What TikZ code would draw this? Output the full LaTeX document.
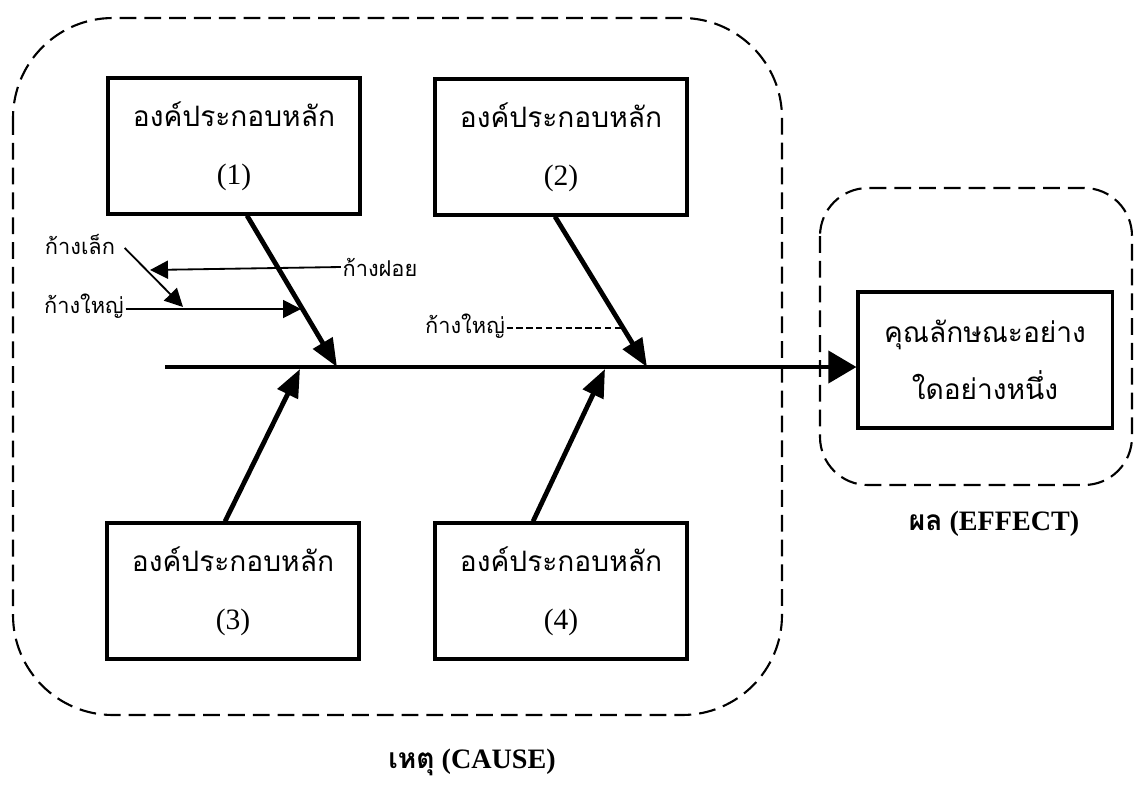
\documentclass[tikz,border=0pt]{standalone}
\usepackage{fontspec}
\setmainfont{Liberation Serif}
\newfontfamily\thai[Script=Thai]{Loma}
\usetikzlibrary{arrows.meta}

\begin{document}
\begin{tikzpicture}[x=0.025cm,y=-0.025cm,
  part/.style={draw,line width=2.2pt,minimum width=6.3cm,minimum height=3.4cm,
    align=center,font=\fontsize{21}{24}\selectfont},
  cluster/.style={draw,line width=1.5pt,dash pattern=on 0.42cm off 0.2cm},
  bone/.style={line width=3.4pt,-{Triangle[length=0.7cm,width=0.55cm]}},
  twig/.style={line width=1.3pt,-{Triangle[length=0.45cm,width=0.45cm]}},
  tag/.style={font=\thai\fontsize{15.5}{18}\selectfont,inner sep=1pt},
  caption/.style={font=\bfseries\fontsize{20}{24}\selectfont}]
\useasboundingbox (0,0) rectangle (1142,790);
% cause and effect frames
\draw[cluster,rounded corners=2.5cm] (13,18) rectangle (782,715);
\draw[cluster,rounded corners=1.2cm] (820,188) rectangle (1132,485);
% main parts
\node[part] (p1) at (234,146) {{\thai\fontsize{20}{24}\selectfont องค์ประกอบหลัก}\\[17pt](1)};
\node[part] (p2) at (561,147) {{\thai\fontsize{20}{24}\selectfont องค์ประกอบหลัก}\\[17pt](2)};
\node[part] (p3) at (233,591) {{\thai\fontsize{20}{24}\selectfont องค์ประกอบหลัก}\\[17pt](3)};
\node[part] (p4) at (561,591) {{\thai\fontsize{20}{24}\selectfont องค์ประกอบหลัก}\\[17pt](4)};
\node[part,minimum width=6.35cm] (effect) at (985,360)
  {{\thai\fontsize{20}{24}\selectfont คุณลักษณะอย่าง}\\[14pt]{\thai\fontsize{20}{24}\selectfont ใดอย่างหนึ่ง}};
% spine and bones
\coordinate (tail) at (165,367);
\coordinate (j1) at (337,367);
\coordinate (j2) at (647,367);
\coordinate (j3) at (300,369);
\coordinate (j4) at (605,369);
\draw[line width=2.8pt,-{Triangle[length=0.7cm,width=0.8cm]}] (tail) -- (tail -| effect.west);
\draw[bone] ([xshift=0.325cm]p1.south) -- (j1);
\draw[bone] ([xshift=-0.15cm]p2.south) -- (j2);
\draw[bone] ([xshift=-0.2cm]p3.north) -- (j3);
\draw[bone] ([xshift=-0.7cm]p4.north) -- (j4);
% labels of the small bones
\node[tag] (lek) at (80,244) {ก้างเล็ก};
\node[tag] (foy) at (380,267) {ก้างฝอย};
\node[tag] (yai) at (84,306) {ก้างใหญ่};
\node[tag] (yai2) at (465,326) {ก้างใหญ่};
\coordinate (k1) at (183,307);
\coordinate (k2) at (150,270);
\coordinate (k3) at (301,309);
\coordinate (k4) at (622,328);
\draw[twig] ([xshift=0.2cm,yshift=-0.1cm]lek.east) -- (k1);
\draw[twig] (foy.west) -- (k2);
\draw[twig] (yai.east |- k3) -- (k3);
\draw[line width=1pt,dash pattern=on 4.5pt off 2.5pt] (yai2.east |- k4) -- (k4);
% captions
\node[caption] (effcap) at (994,524) {{\thai ผล} (EFFECT)};
\node[caption] (causecap) at (472,762) {{\thai เหตุ} (CAUSE)};
\end{tikzpicture}
\end{document}
